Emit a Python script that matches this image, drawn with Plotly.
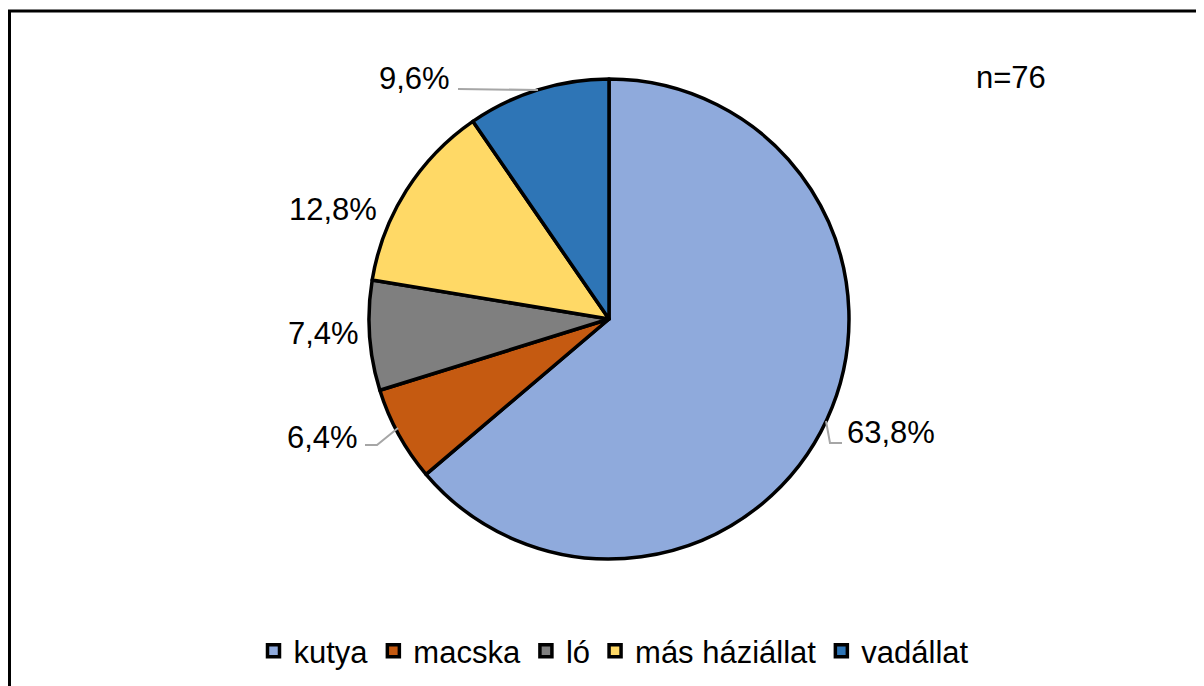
import plotly.graph_objects as go

# page body has an 8px margin; figure fills the rest of the window
OFF = 8
W, H = 1204 - OFF, 686 - OFF

categories = ["kutya", "macska", "ló", "más háziállat", "vadállat"]
values = [63.8, 6.4, 7.4, 12.8, 9.6]
label_texts = ["63,8%", "6,4%", "7,4%", "12,8%", "9,6%"]
colors = ["#8FAADC", "#C55A11", "#7F7F7F", "#FFD966", "#2E75B6"]
sample_note = "n=76"

def px(x):
    return (x - OFF) / W

def py(y):
    return 1 - (y - OFF) / H

FONT = "Liberation Sans, Arial, sans-serif"

fig = go.Figure()
fig.add_trace(go.Pie(
    labels=categories,
    values=values,
    sort=False,
    direction="clockwise",
    rotation=0,
    marker=dict(colors=colors, line=dict(color="black", width=3.5)),
    textinfo="none",
    hoverinfo="label+percent",
    domain=dict(x=[px(369), px(849)], y=[py(559), py(79)]),
))

# data label positions (pixel) and leader lines
label_pos = [(891, 432), (322, 437), (323, 333), (333, 209), (414, 78)]
annotations = []
for (lx, ly), t in zip(label_pos, label_texts):
    annotations.append(dict(x=px(lx), y=py(ly), xref="paper", yref="paper",
                            text=t, showarrow=False, xanchor="center", yanchor="middle",
                            font=dict(family=FONT, size=31, color="black")))
annotations.append(dict(x=px(1011), y=py(77), xref="paper", yref="paper",
                        text=sample_note, showarrow=False, xanchor="center", yanchor="middle",
                        font=dict(family=FONT, size=31, color="black")))

leaders = [
    [(826, 421), (830, 443), (842, 443)],
    [(365, 445), (377, 445), (398, 428)],
    [(458, 89), (538, 90)],
]
shapes = []
for pts in leaders:
    path = "M " + " L ".join(f"{px(x)},{py(y)}" for x, y in pts)
    shapes.append(dict(type="path", path=path, xref="paper", yref="paper",
                       line=dict(color="#A6A6A6", width=2)))

# outer chart border
shapes.append(dict(type="rect", xref="paper", yref="paper",
                   x0=px(9.5), y0=py(11), x1=px(1220), y1=py(710),
                   line=dict(color="black", width=3), fillcolor="rgba(0,0,0,0)", layer="below"))

fig.update_layout(
    width=W, height=H,
    margin=dict(l=0, r=0, t=0, b=0),
    paper_bgcolor="white",
    plot_bgcolor="white",
    font=dict(family=FONT, size=31, color="black"),
    showlegend=True,
    legend=dict(orientation="h", x=px(614), xanchor="center", y=py(651), yanchor="middle",
                font=dict(family=FONT, size=31, color="black"),
                itemwidth=30, tracegroupgap=0, bgcolor="rgba(0,0,0,0)"),
    annotations=annotations,
    shapes=shapes,
)

fig.write_html("out.html")
